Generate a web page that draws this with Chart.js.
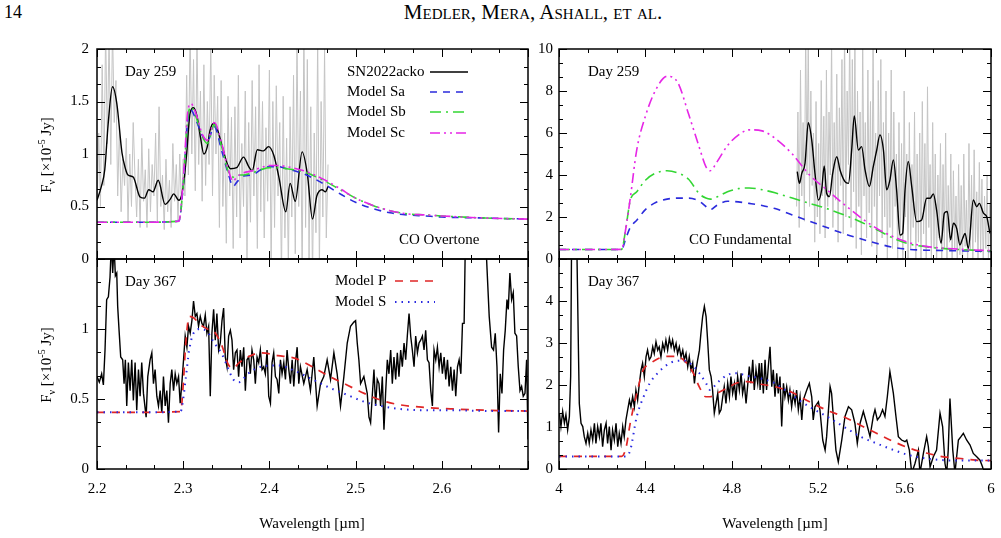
<!DOCTYPE html>
<html lang="en">
<head>
<meta charset="UTF-8">
<title>CO overtone and fundamental - SN2022acko</title>
<script src="https://cdn.jsdelivr.net/npm/chart.js"></script>
<style>
  body {
    margin: 0;
    width: 1001px;
    height: 538px;
    position: relative;
    overflow: hidden;
    background: #fff;
    color: #000;
    font-family: "Liberation Serif", "Times New Roman", serif;
  }
  canvas { position: absolute; }
  .page-no { position: absolute; left: 4px; top: 2px; font-size: 18px; }
  .running-head { position: absolute; left: 533px; top: 0px; transform: translateX(-50%); font-size: 21px; font-variant: small-caps; white-space: nowrap; }
  .ytitle { position: absolute; font-size: 15px; white-space: nowrap; transform: translate(-50%, -50%) rotate(-90deg); }
  .ytitle sub, .ytitle sup { font-size: 10px; }
  .xtitle { position: absolute; font-size: 15px; white-space: nowrap; transform: translate(-50%, -50%); }
</style>
</head>
<body>

<div class="page-no">14</div>
<div class="running-head">Medler, Mera, Ashall, et al.</div>

<canvas id="tl"></canvas>
<canvas id="tr"></canvas>
<canvas id="bl"></canvas>
<canvas id="br"></canvas>

<div class="ytitle" style="left:46px; top:155px;">F<sub>ν</sub> [×10<sup>-5</sup> Jy]</div>
<div class="ytitle" style="left:46px; top:365px;">F<sub>ν</sub> [×10<sup>-5</sup> Jy]</div>
<div class="xtitle" style="left:312px; top:523px;">Wavelength [µm]</div>
<div class="xtitle" style="left:775px; top:523px;">Wavelength [µm]</div>

<script>
// ---------- tick positions / labels ----------
const leftXTicks = [2.2, 2.3, 2.4, 2.5, 2.6, 2.7];
const leftXLabels = ['2.2', '2.3', '2.4', '2.5', '2.6', ''];
const rightXTicks = [4, 4.4, 4.8, 5.2, 5.6, 6];
const rightXLabels = ['4', '4.4', '4.8', '5.2', '5.6', '6'];
const tlYTicks = [0, 0.5, 1, 1.5, 2];
const tlYLabels = ['0', '0.5', '1', '1.5', '2'];
const blYTicks = [0, 0.5, 1, 1.5];
const blYLabels = ['0', '0.5', '1', ''];
const trYTicks = [0, 2, 4, 6, 8, 10];
const trYLabels = ['0', '2', '4', '6', '8', '10'];
const brYTicks = [0, 1, 2, 3, 4, 5];
const brYLabels = ['0', '1', '2', '3', '4', ''];

// ---------- Day 259, CO overtone ----------
const tlGray = [[2.200,0.45],[2.202,1.2],[2.204,0.5],[2.206,1.85],[2.208,0.7],[2.210,2.2],[2.212,1.1],[2.214,2.15],
  [2.216,0.9],[2.218,2.2],[2.220,1.3],[2.222,1.7],[2.224,0.6],[2.226,1.25],[2.228,0.45],[2.230,0.95],[2.232,0.7],[2.234,1.15],
  [2.236,0.35],[2.238,1.0],[2.240,0.5],[2.242,1.3],[2.244,0.8],[2.246,0.4],[2.248,0.95],[2.250,0.3],[2.252,1.15],[2.254,0.55],
  [2.256,0.85],[2.258,0.3],[2.260,1.05],[2.262,0.45],[2.264,0.9],[2.266,0.6],[2.268,1.2],[2.270,0.35],[2.272,1.45],[2.274,0.5],
  [2.276,0.8],[2.278,0.28],[2.280,0.95],[2.282,0.45],[2.284,0.75],[2.286,0.3],[2.288,1.1],[2.290,0.55],[2.292,0.9],[2.294,0.35],
  [2.296,1.0],[2.298,0.5],[2.300,0.95],[2.302,0.6],[2.304,1.75],[2.306,0.8],[2.308,2.2],[2.310,1.0],[2.312,1.9],[2.314,0.65],
  [2.316,2.1],[2.318,0.9],[2.320,1.6],[2.322,0.55],[2.324,1.85],[2.326,0.7],[2.328,1.5],[2.330,0.9],[2.332,2.05],[2.334,0.6],
  [2.336,1.75],[2.338,1.0],[2.340,1.55],[2.342,0.3],[2.344,1.7],[2.346,0.5],[2.348,1.2],[2.350,0.15],[2.352,1.55],[2.354,0.6],
  [2.356,1.35],[2.358,0.1],[2.360,1.45],[2.362,0.4],[2.364,1.75],[2.366,0.2],[2.368,1.1],[2.370,0.5],[2.372,1.6],[2.374,0.0],
  [2.376,1.3],[2.378,0.35],[2.380,1.7],[2.382,0.6],[2.384,1.45],[2.386,0.1],[2.388,1.85],[2.390,0.45],[2.392,1.5],[2.394,0.2],
  [2.396,1.25],[2.398,0.55],[2.400,1.8],[2.402,-0.1],[2.404,1.5],[2.406,0.3],[2.408,1.65],[2.410,0.6],[2.412,1.3],[2.414,-0.2],
  [2.416,1.55],[2.418,0.2],[2.420,1.15],[2.422,-0.1],[2.424,1.45],[2.426,0.4],[2.428,1.75],[2.430,0.05],[2.432,2.1],[2.434,0.5],
  [2.436,1.6],[2.438,-0.2],[2.440,2.2],[2.442,0.3],[2.444,1.9],[2.446,0.0],[2.448,1.45],[2.450,-0.2],[2.452,1.2],[2.454,0.25],
  [2.456,2.1],[2.458,-0.1],[2.460,1.5],[2.462,0.4],[2.464,2.0],[2.466,0.2],[2.468,0.9]];
const tlObs = [[2.200,0.56],[2.205,0.69],[2.209,0.85],[2.213,1.29],[2.218,1.64],[2.223,1.48],[2.229,1.01],[2.233,0.86],
  [2.236,0.80],[2.242,0.78],[2.250,0.59],[2.255,0.58],[2.260,0.66],[2.265,0.64],[2.271,0.75],[2.279,0.52],[2.285,0.57],
  [2.289,0.62],[2.295,0.56],[2.298,0.60],[2.301,0.75],[2.304,1.00],[2.308,1.39],[2.312,1.44],[2.316,1.36],[2.320,1.16],
  [2.324,1.00],[2.328,1.07],[2.331,1.22],[2.335,1.29],[2.339,1.25],[2.345,1.08],[2.351,0.91],[2.355,0.86],[2.362,0.87],
  [2.370,0.97],[2.376,0.88],[2.380,0.84],[2.386,1.04],[2.393,1.03],[2.399,1.07],[2.405,0.99],[2.411,0.78],[2.419,0.45],
  [2.424,0.72],[2.430,0.55],[2.438,1.02],[2.444,0.81],[2.450,0.38],[2.455,0.60],[2.461,0.66],[2.465,0.64],[2.468,0.69]];
const tlModelX = [2.2,2.25,2.295,2.3,2.305,2.309,2.315,2.322,2.328,2.336,2.345,2.352,2.358,2.362,2.37,2.38,2.39,2.4,
  2.41,2.42,2.44,2.46,2.48,2.5,2.52,2.54,2.56,2.58,2.6,2.65,2.7];
const tlSa = [0.35,0.35,0.36,0.7,1.3,1.42,1.32,1.18,1.12,1.26,1.02,0.82,0.69,0.73,0.79,0.80,0.85,0.88,0.88,0.86,0.81,
  0.73,0.63,0.54,0.48,0.44,0.42,0.41,0.40,0.39,0.38];
const tlSb = [0.35,0.35,0.36,0.7,1.32,1.45,1.35,1.17,1.10,1.28,1.06,0.84,0.78,0.80,0.80,0.82,0.85,0.87,0.87,0.86,0.83,
  0.76,0.67,0.58,0.51,0.46,0.43,0.42,0.41,0.39,0.38];
const tlSc = [0.35,0.35,0.36,0.75,1.38,1.48,1.38,1.19,1.13,1.30,1.09,0.86,0.74,0.78,0.82,0.84,0.87,0.89,0.89,0.88,0.84,
  0.77,0.68,0.58,0.51,0.46,0.43,0.42,0.41,0.39,0.38];

// ---------- Day 259, CO fundamental ----------
const trGray = [[5.100,2.5],[5.106,7.0],[5.112,1.5],[5.118,9.0],[5.124,3.0],[5.130,6.5],[5.136,1.8],[5.142,11],
  [5.148,4.0],[5.154,10.5],[5.160,2.5],[5.166,8.0],[5.172,3.5],[5.178,6.0],[5.184,0.8],[5.190,7.5],[5.196,2.0],[5.202,5.5],
  [5.208,1.2],[5.214,8.5],[5.220,3.0],[5.226,6.8],[5.232,1.0],[5.238,9.0],[5.244,2.5],[5.250,7.0],[5.256,4.0],[5.262,10.5],
  [5.268,1.5],[5.274,6.5],[5.280,2.8],[5.286,8.8],[5.292,0.8],[5.298,7.2],[5.304,3.5],[5.310,9.5],[5.316,1.2],[5.322,11],
  [5.328,2.0],[5.334,8.0],[5.340,4.5],[5.346,11],[5.352,1.5],[5.358,9.5],[5.364,3.2],[5.370,10.5],[5.376,0.5],[5.382,8.0],
  [5.388,2.5],[5.394,7.0],[5.400,0.2],[5.406,10.5],[5.412,3.0],[5.418,6.5],[5.424,1.0],[5.430,9.0],[5.436,2.2],[5.442,7.5],
  [5.448,0.6],[5.454,10.5],[5.460,2.5],[5.466,6.0],[5.472,0.0],[5.478,8.5],[5.484,3.0],[5.490,9.5],[5.496,1.0],[5.502,6.5],
  [5.508,2.0],[5.514,8.0],[5.520,-0.4],[5.526,6.0],[5.532,1.5],[5.538,9.0],[5.544,0.5],[5.550,7.0],[5.556,2.5],[5.562,5.0],
  [5.568,-0.3],[5.574,6.5],[5.580,1.0],[5.586,5.5],[5.592,-0.2],[5.598,8.0],[5.604,2.0],[5.610,5.0],[5.616,-0.5],[5.622,6.5],
  [5.628,0.5],[5.634,4.5],[5.640,1.5],[5.646,7.0],[5.652,-0.3],[5.658,5.0],[5.664,0.8],[5.670,6.0],[5.676,-0.4],[5.682,7.5],
  [5.688,1.2],[5.694,5.5],[5.700,0.0],[5.706,8.2],[5.712,1.5],[5.718,4.5],[5.724,-0.3],[5.730,6.5],[5.736,0.5],[5.742,5.0],
  [5.748,-0.5],[5.754,4.0],[5.760,1.0],[5.766,5.5],[5.772,-0.2],[5.778,4.5],[5.784,0.5],[5.790,6.0],[5.796,-0.4],[5.802,3.5],
  [5.808,0.8],[5.814,5.0],[5.820,-0.3],[5.826,4.2],[5.832,0.5],[5.838,3.0],[5.844,-0.5],[5.850,4.5],[5.856,0.2],[5.862,3.5],
  [5.868,-0.4],[5.874,5.0],[5.880,0.6],[5.886,2.8],[5.892,-0.3],[5.898,5.5],[5.904,0.4],[5.910,4.0],[5.916,-0.2],[5.922,5.2],
  [5.928,0.8],[5.934,3.2],[5.940,-0.4],[5.946,4.6],[5.952,0.3],[5.958,3.8],[5.964,-0.3],[5.970,3.0],[5.976,0.5],[5.982,4.0],
  [5.988,-0.2],[5.994,2.6],[6.000,0.5]];
const trObs = [[5.103,4.16],[5.113,3.60],[5.124,4.08],[5.139,4.56],[5.154,6.49],[5.170,5.67],[5.185,4.08],[5.201,2.81],
  [5.216,3.29],[5.228,4.43],[5.239,3.13],[5.252,2.97],[5.267,4.08],[5.286,4.87],[5.301,4.24],[5.324,3.68],[5.340,3.60],
  [5.355,5.19],[5.367,6.81],[5.386,5.19],[5.401,5.35],[5.417,4.24],[5.437,3.45],[5.455,4.40],[5.471,5.19],[5.486,5.91],
  [5.502,5.19],[5.517,3.29],[5.532,3.76],[5.548,4.72],[5.563,3.29],[5.579,1.14],[5.591,1.22],[5.602,3.29],[5.617,4.64],
  [5.633,3.45],[5.656,1.78],[5.679,1.86],[5.702,2.89],[5.718,2.89],[5.733,3.10],[5.748,2.34],[5.769,0.75],[5.784,2.18],
  [5.798,2.26],[5.813,0.91],[5.826,1.70],[5.841,1.46],[5.856,0.67],[5.869,0.99],[5.880,1.22],[5.895,0.51],[5.918,2.81],
  [5.934,2.49],[5.946,2.65],[5.965,2.18],[5.980,2.02],[5.995,1.22]];
const trModelX = [4.0,4.2,4.29,4.31,4.33,4.36,4.40,4.45,4.50,4.55,4.60,4.65,4.68,4.70,4.73,4.78,4.83,4.88,4.94,5.0,
  5.08,5.16,5.24,5.32,5.40,5.48,5.55,5.62,5.70,5.80,5.90,6.0];
const trSa = [0.45,0.45,0.46,1.0,1.5,1.85,2.35,2.7,2.85,2.9,2.9,2.75,2.5,2.35,2.55,2.75,2.72,2.65,2.55,2.4,
  2.1,1.8,1.5,1.2,0.95,0.72,0.55,0.46,0.42,0.4,0.38,0.36];
const trSb = [0.45,0.45,0.46,1.5,2.8,3.2,3.75,4.1,4.2,4.1,3.8,3.1,2.9,2.85,2.95,3.2,3.35,3.38,3.3,3.15,
  2.9,2.65,2.4,2.1,1.75,1.35,0.98,0.72,0.58,0.48,0.43,0.38];
const trSc = [0.45,0.45,0.46,1.5,2.9,5.2,6.8,8.1,8.7,8.4,6.9,5.3,4.4,4.2,4.6,5.4,5.9,6.15,6.1,5.75,
  5.0,4.0,3.3,2.6,1.95,1.4,1.05,0.78,0.6,0.5,0.44,0.4];

// ---------- Day 367, CO overtone ----------
const blObs = [[2.2000,0.66],[2.2027,0.62],[2.2054,0.68],[2.2074,0.60],[2.2093,0.85],[2.2112,1.21],[2.2132,1.23],[2.2151,1.37],
  [2.2167,1.62],[2.2182,1.40],[2.2198,1.60],[2.2213,1.38],[2.2229,1.40],[2.2240,1.16],[2.2256,0.99],[2.2275,0.80],[2.2298,0.78],
  [2.2314,0.61],[2.2329,0.78],[2.2345,0.45],[2.2364,0.76],[2.2384,0.56],[2.2403,0.78],[2.2422,0.49],[2.2442,0.76],[2.2461,0.42],
  [2.2481,0.71],[2.2500,0.52],[2.2519,0.76],[2.2539,0.54],[2.2570,0.37],[2.2589,0.66],[2.2616,0.78],[2.2636,0.83],[2.2655,0.61],
  [2.2674,0.71],[2.2694,0.52],[2.2713,0.45],[2.2733,0.56],[2.2752,0.40],[2.2771,0.66],[2.2791,0.45],[2.2810,0.56],[2.2829,0.33],
  [2.2849,0.61],[2.2868,0.71],[2.2888,0.56],[2.2907,0.68],[2.2926,0.61],[2.2946,0.66],[2.2965,0.47],[2.2984,0.61],[2.3004,0.78],
  [2.3023,0.95],[2.3043,0.87],[2.3062,1.02],[2.3081,0.97],[2.3101,1.06],[2.3120,1.20],[2.3140,1.09],[2.3159,1.11],[2.3178,1.02],
  [2.3198,1.09],[2.3217,1.04],[2.3236,1.02],[2.3256,1.10],[2.3275,0.97],[2.3295,1.02],[2.3314,0.52],[2.3333,0.97],[2.3353,1.14],
  [2.3372,0.92],[2.3391,1.11],[2.3411,0.85],[2.3430,0.90],[2.3450,1.06],[2.3469,1.15],[2.3488,0.80],[2.3508,0.73],[2.3527,0.95],
  [2.3547,0.99],[2.3566,0.92],[2.3585,0.71],[2.3605,0.83],[2.3624,0.85],[2.3643,0.66],[2.3663,0.85],[2.3682,0.73],[2.3702,0.87],
  [2.3721,0.56],[2.3740,0.78],[2.3760,0.80],[2.3779,0.68],[2.3798,0.85],[2.3818,0.78],[2.3837,0.61],[2.3857,0.80],[2.3876,0.76],
  [2.3895,0.85],[2.3915,0.71],[2.3934,0.73],[2.3953,0.68],[2.3973,0.85],[2.3992,0.52],[2.4012,0.47],[2.4031,0.76],[2.4050,0.83],
  [2.4070,0.66],[2.4089,0.64],[2.4109,0.54],[2.4128,0.78],[2.4147,0.68],[2.4167,0.76],[2.4186,0.64],[2.4205,0.85],[2.4225,0.71],
  [2.4244,0.61],[2.4264,0.78],[2.4283,0.59],[2.4302,0.76],[2.4322,0.87],[2.4341,0.61],[2.4360,0.73],[2.4399,0.61],[2.4438,0.71],
  [2.4476,0.56],[2.4515,0.80],[2.4554,0.45],[2.4593,0.61],[2.4631,0.66],[2.4670,0.78],[2.4709,0.64],[2.4748,0.83],[2.4786,0.68],
  [2.4825,0.45],[2.4864,0.66],[2.4903,0.90],[2.4941,1.02],[2.4980,1.05],[2.5000,1.06],[2.5019,0.90],[2.5038,0.78],[2.5058,0.61],
  [2.5096,0.66],[2.5135,0.54],[2.5155,0.37],[2.5174,0.33],[2.5193,0.52],[2.5213,0.71],[2.5232,0.45],[2.5251,0.64],[2.5271,0.61],
  [2.5290,0.45],[2.5310,0.66],[2.5329,0.28],[2.5348,0.54],[2.5368,0.78],[2.5387,0.68],[2.5407,0.85],[2.5426,0.61],[2.5445,0.80],
  [2.5465,0.64],[2.5484,0.83],[2.5503,0.66],[2.5523,0.85],[2.5542,0.73],[2.5562,0.90],[2.5581,0.78],[2.5600,0.95],[2.5620,1.11],
  [2.5639,0.95],[2.5658,0.85],[2.5678,0.73],[2.5697,0.95],[2.5717,0.83],[2.5736,0.90],[2.5755,0.92],[2.5775,0.95],[2.5794,0.85],
  [2.5813,0.99],[2.5833,0.78],[2.5852,0.76],[2.5872,0.56],[2.5891,0.45],[2.5910,0.85],[2.5930,0.78],[2.5949,0.87],[2.5969,0.73],
  [2.5988,0.83],[2.6007,0.68],[2.6027,0.80],[2.6046,0.64],[2.6066,0.78],[2.6085,0.59],[2.6104,0.73],[2.6124,0.56],[2.6143,0.71],
  [2.6162,0.52],[2.6182,0.73],[2.6201,0.78],[2.6221,0.68],[2.6240,1.04],[2.6259,1.04],[2.6275,1.70],[2.6298,1.90],[2.6376,2.0],
  [2.6453,1.9],[2.6512,1.60],[2.6550,1.09],[2.6578,0.87],[2.6600,0.85],[2.6620,0.97],[2.6640,0.73],[2.6659,0.26],[2.6678,0.68],
  [2.6698,0.54],[2.6717,0.85],[2.6736,0.99],[2.6756,1.21],[2.6771,1.14],[2.6790,1.40],[2.6810,1.21],[2.6829,1.26],[2.6848,0.97],
  [2.6868,0.95],[2.6887,0.73],[2.6907,0.56],[2.6926,0.59],[2.6945,0.52],[2.6965,0.54],[2.6984,0.78],[2.7000,0.21]];
const blModelX = [2.2,2.25,2.297,2.300,2.303,2.307,2.312,2.32,2.328,2.336,2.345,2.352,2.358,2.365,2.375,2.39,2.41,
  2.43,2.45,2.47,2.49,2.51,2.53,2.55,2.58,2.61,2.65,2.7];
const blP = [0.405,0.405,0.41,0.6,0.9,1.09,1.08,1.03,1.0,0.98,0.88,0.75,0.72,0.76,0.80,0.83,0.81,0.79,0.73,0.66,0.60,
  0.54,0.49,0.46,0.44,0.43,0.42,0.414];
const blS = [0.405,0.405,0.41,0.5,0.65,0.85,0.97,1.0,0.98,0.9,0.82,0.72,0.64,0.62,0.68,0.73,0.74,0.70,0.64,0.58,0.53,
  0.48,0.45,0.43,0.42,0.42,0.415,0.414];

// ---------- Day 367, CO fundamental ----------
const brObs = [[4.002,1.33],[4.009,1.01],[4.017,1.37],[4.025,1.09],[4.032,1.29],[4.040,0.93],[4.048,1.25],[4.054,2.20],
  [4.059,6.0],[4.071,6.5],[4.082,5.5],[4.090,2.83],[4.094,1.56],[4.102,1.09],[4.110,1.01],[4.117,0.77],[4.125,0.61],[4.133,0.85],
  [4.140,0.61],[4.148,0.93],[4.156,0.69],[4.164,1.09],[4.171,0.61],[4.179,1.01],[4.187,0.77],[4.194,1.09],[4.202,0.53],[4.210,0.93],
  [4.218,1.09],[4.225,0.61],[4.233,1.01],[4.241,0.45],[4.248,0.93],[4.256,0.69],[4.264,1.09],[4.272,0.53],[4.279,0.85],[4.287,0.61],
  [4.295,1.01],[4.302,0.77],[4.310,1.17],[4.318,1.41],[4.326,1.64],[4.333,1.48],[4.341,1.72],[4.349,1.48],[4.356,1.88],[4.364,1.64],
  [4.372,2.04],[4.380,2.36],[4.387,2.52],[4.395,2.20],[4.403,2.67],[4.410,2.83],[4.418,2.60],[4.426,2.67],[4.434,2.91],[4.441,2.75],
  [4.449,3.03],[4.457,2.83],[4.464,2.91],[4.472,2.67],[4.480,2.99],[4.488,2.83],[4.495,3.07],[4.503,2.83],[4.511,3.11],[4.519,2.91],
  [4.526,3.07],[4.534,2.83],[4.542,2.99],[4.549,2.75],[4.557,2.91],[4.565,2.67],[4.573,2.83],[4.580,2.60],[4.588,2.75],[4.596,2.44],
  [4.603,2.67],[4.611,2.36],[4.619,2.52],[4.627,2.04],[4.634,2.36],[4.642,2.60],[4.650,2.83],[4.657,3.23],[4.665,3.63],[4.673,3.87],
  [4.681,3.63],[4.688,3.07],[4.696,2.36],[4.704,2.20],[4.711,1.88],[4.719,1.33],[4.727,1.56],[4.735,1.80],[4.742,1.33],[4.750,1.41],
  [4.758,1.72],[4.765,1.96],[4.773,1.56],[4.781,2.04],[4.789,1.72],[4.796,2.20],[4.804,1.80],[4.812,2.04],[4.819,1.64],[4.827,2.20],
  [4.835,1.88],[4.843,2.28],[4.850,1.80],[4.858,2.04],[4.866,1.56],[4.873,1.96],[4.881,2.44],[4.889,2.04],[4.897,2.60],[4.904,1.88],
  [4.912,2.36],[4.920,2.04],[4.927,2.52],[4.931,1.88],[4.938,2.52],[4.946,1.80],[4.954,2.60],[4.961,1.88],[4.969,2.44],[4.977,2.91],
  [4.985,1.96],[4.992,2.36],[5.000,1.72],[5.008,2.28],[5.015,1.80],[5.023,2.20],[5.031,1.01],[5.039,2.04],[5.046,1.72],[5.054,1.96],
  [5.062,1.64],[5.069,1.88],[5.077,1.48],[5.085,1.80],[5.093,1.56],[5.100,1.88],[5.108,1.41],[5.116,1.72],[5.124,1.17],[5.131,1.64],
  [5.147,1.88],[5.159,2.04],[5.170,1.72],[5.177,1.17],[5.185,1.48],[5.201,1.60],[5.208,1.41],[5.221,0.69],[5.232,0.45],[5.239,0.77],
  [5.255,1.96],[5.262,1.80],[5.270,1.25],[5.282,0.45],[5.293,0.17],[5.309,0.69],[5.324,1.25],[5.340,1.48],[5.355,1.41],[5.370,1.09],
  [5.381,0.61],[5.394,1.09],[5.409,1.37],[5.424,1.09],[5.440,0.77],[5.455,1.25],[5.463,1.41],[5.474,1.17],[5.486,1.25],[5.498,1.41],
  [5.509,1.25],[5.520,1.72],[5.532,2.32],[5.548,1.80],[5.560,1.25],[5.571,0.77],[5.586,0.69],[5.602,0.65],[5.610,0.69],[5.622,0.45],
  [5.633,-0.1],[5.648,0.13],[5.664,0.45],[5.671,-0.1],[5.687,0.37],[5.702,0.77],[5.710,0.53],[5.718,0.05],[5.733,0.29],[5.748,0.45],
  [5.764,1.33],[5.776,1.01],[5.787,0.13],[5.795,-0.1],[5.802,0.45],[5.810,1.68],[5.823,0.45],[5.833,-0.1],[5.849,0.69],[5.861,0.77],
  [5.872,0.85],[5.887,0.69],[5.903,0.57],[5.918,0.37],[5.934,0.29],[5.949,0.21],[5.961,0.05],[5.972,-0.2],[5.995,-0.3]];
const brModelX = [4.0,4.2,4.29,4.31,4.33,4.36,4.39,4.42,4.46,4.50,4.54,4.58,4.62,4.65,4.68,4.70,4.73,4.78,4.82,4.87,
  4.93,5.0,5.08,5.16,5.24,5.32,5.40,5.47,5.55,5.62,5.70,5.78,5.86,5.93,6.0];
const brP = [0.3,0.3,0.3,0.5,1.1,1.8,2.36,2.5,2.63,2.68,2.68,2.58,2.3,1.95,1.72,1.72,1.8,1.93,2.04,2.08,
  2.02,1.96,1.82,1.6,1.4,1.24,1.03,0.85,0.65,0.5,0.38,0.29,0.25,0.21,0.2];
const brS = [0.3,0.3,0.3,0.3,0.45,1.25,1.7,2.04,2.3,2.48,2.57,2.58,2.46,2.28,2.05,1.88,2.04,2.24,2.28,2.22,
  2.16,2.04,1.75,1.48,1.25,1.0,0.76,0.61,0.45,0.33,0.25,0.21,0.2,0.2,0.2];

// ---------- styles ----------
const FONT = '"Liberation Serif", "Times New Roman", serif';
const styleGray = { color: '#c4c4c4', width: 1, dash: [] };
const styleObs = { color: '#000000', width: 1.4, dash: [] };
const styleSa = { color: '#2b2bdc', width: 1.6, dash: [7, 6] };
const styleSb = { color: '#33d633', width: 1.6, dash: [11, 5, 2, 5] };
const styleSc = { color: '#e626e6', width: 1.6, dash: [10, 4, 2, 4, 2, 4] };
const styleP = { color: '#e02626', width: 1.7, dash: [8, 7] };
const styleS = { color: '#2a2ae0', width: 2, dash: [1.5, 5] };

function pairs(list) { return list.map(p => ({ x: p[0], y: p[1] })); }
function zip(xs, ys) { return xs.map((x, i) => ({ x: x, y: ys[i] })); }

function series(points, style, order, smooth) {
  return {
    data: points,
    borderColor: style.color,
    borderWidth: style.width,
    borderDash: style.dash,
    pointRadius: 0,
    fill: false,
    order: order,
    clip: 0,
    tension: smooth ? 0.4 : 0,
    cubicInterpolationMode: smooth ? 'monotone' : 'default'
  };
}

// inward ticks on all four sides, frame, notes and legend
function tickList(majors) {
  const out = [];
  majors.forEach((v, i) => {
    out.push({ v: v, major: true });
    if (i < majors.length - 1) {
      const step = (majors[i + 1] - v) / 3;
      out.push({ v: v + step, major: false }, { v: v + 2 * step, major: false });
    }
  });
  return out;
}

const framePlugin = {
  id: 'frame',
  afterDatasetsDraw(chart, args, opts) {
    const ctx = chart.ctx, a = chart.chartArea;
    const xs = chart.scales.x, ys = chart.scales.y;
    ctx.save();
    ctx.setLineDash([]);
    ctx.strokeStyle = '#000';
    ctx.lineWidth = 1;
    ctx.beginPath();
    tickList(opts.xTicks).forEach(t => {
      const px = Math.round(xs.getPixelForValue(t.v)) + 0.5;
      const len = t.major ? 8 : 4;
      ctx.moveTo(px, a.bottom); ctx.lineTo(px, a.bottom - len);
      ctx.moveTo(px, a.top); ctx.lineTo(px, a.top + len);
    });
    tickList(opts.yTicks).forEach(t => {
      const py = Math.round(ys.getPixelForValue(t.v)) + 0.5;
      const len = t.major ? 8 : 4;
      ctx.moveTo(a.left, py); ctx.lineTo(a.left + len, py);
      ctx.moveTo(a.right, py); ctx.lineTo(a.right - len, py);
    });
    ctx.stroke();
    ctx.lineWidth = 1.5;
    ctx.strokeRect(a.left, a.top, a.right - a.left, a.bottom - a.top);

    ctx.font = '15px ' + FONT;
    ctx.textBaseline = 'middle';
    ctx.textAlign = 'left';
    ctx.fillStyle = '#000';
    (opts.notes || []).forEach(n => ctx.fillText(n.text, a.left + n.dx, a.top + n.dy));
    (opts.legend || []).forEach(item => {
      ctx.fillStyle = '#000';
      ctx.fillText(item.text, a.left + item.dx, a.top + item.dy);
      ctx.strokeStyle = item.style.color;
      ctx.lineWidth = item.style.width;
      ctx.setLineDash(item.style.dash);
      ctx.beginPath();
      ctx.moveTo(a.left + item.x0, a.top + item.dy);
      ctx.lineTo(a.left + item.x1, a.top + item.dy);
      ctx.stroke();
      ctx.setLineDash([]);
    });
    ctx.restore();
  }
};

function makePanel(id, area, cfg) {
  const canvas = document.getElementById(id);
  // generous padding so the scales' label margins never shrink the plot box
  const padL = 50, padT = 20, padR = 20, padB = cfg.xLabels ? 40 : 20;
  canvas.width = area.w + padL + padR;
  canvas.height = area.h + padT + padB;
  canvas.style.left = (area.x - padL) + 'px';
  canvas.style.top = (area.y - padT) + 'px';

  const tickFont = { family: FONT, size: 15 };
  return new Chart(canvas, {
    type: 'line',
    data: { datasets: cfg.datasets },
    options: {
      responsive: false,
      animation: false,
      devicePixelRatio: 1,
      events: [],
      layout: { padding: { top: padT, right: padR, left: 0, bottom: 0 } },
      plugins: {
        legend: { display: false },
        tooltip: { enabled: false },
        frame: { xTicks: cfg.xTicks, yTicks: cfg.yTicks, notes: cfg.notes, legend: cfg.legend }
      },
      scales: {
        x: {
          type: 'linear',
          min: cfg.xTicks[0],
          max: cfg.xTicks[cfg.xTicks.length - 1],
          afterBuildTicks: s => { s.ticks = cfg.xTicks.map(v => ({ value: v })); },
          afterFit: s => { s.height = padB; },
          grid: { display: false, drawTicks: false },
          border: { display: false },
          ticks: {
            display: !!cfg.xLabels,
            autoSkip: false,
            maxRotation: 0,
            padding: 11,
            color: '#000',
            font: tickFont,
            callback: (v, i) => (cfg.xLabels ? cfg.xLabels[i] : '')
          }
        },
        y: {
          type: 'linear',
          min: cfg.yTicks[0],
          max: cfg.yTicks[cfg.yTicks.length - 1],
          afterBuildTicks: s => { s.ticks = cfg.yTicks.map(v => ({ value: v })); },
          afterFit: s => { s.width = padL; },
          grid: { display: false, drawTicks: false },
          border: { display: false },
          ticks: {
            autoSkip: false,
            padding: cfg.yPad,
            color: '#000',
            font: tickFont,
            callback: (v, i) => cfg.yLabels[i]
          }
        }
      }
    },
    plugins: [framePlugin]
  });
}

// Day 259 overtone
makePanel('tl', { x: 97, y: 49, w: 431, h: 210 }, {
  xTicks: leftXTicks, xLabels: null, yTicks: tlYTicks, yLabels: tlYLabels, yPad: 8,
  datasets: [
    series(pairs(tlGray), styleGray, 10, false),
    series(pairs(tlObs), styleObs, 5, true),
    series(zip(tlModelX, tlSa), styleSa, 3, true),
    series(zip(tlModelX, tlSb), styleSb, 2, true),
    series(zip(tlModelX, tlSc), styleSc, 1, true)
  ],
  notes: [{ text: 'Day 259', dx: 28, dy: 23 }, { text: 'CO Overtone', dx: 302, dy: 191 }],
  legend: [
    { text: 'SN2022acko', dx: 250, dy: 23, x0: 333, x1: 371, style: styleObs },
    { text: 'Model Sa', dx: 250, dy: 43, x0: 333, x1: 371, style: styleSa },
    { text: 'Model Sb', dx: 250, dy: 63, x0: 333, x1: 371, style: styleSb },
    { text: 'Model Sc', dx: 250, dy: 84, x0: 333, x1: 371, style: styleSc }
  ]
});

// Day 259 fundamental
makePanel('tr', { x: 559, y: 49, w: 432, h: 210 }, {
  xTicks: rightXTicks, xLabels: null, yTicks: trYTicks, yLabels: trYLabels, yPad: 6,
  datasets: [
    series(pairs(trGray), styleGray, 10, false),
    series(pairs(trObs), styleObs, 5, true),
    series(zip(trModelX, trSa), styleSa, 3, true),
    series(zip(trModelX, trSb), styleSb, 2, true),
    series(zip(trModelX, trSc), styleSc, 1, true)
  ],
  notes: [{ text: 'Day 259', dx: 29, dy: 23 }, { text: 'CO Fundamental', dx: 130, dy: 191 }]
});

// Day 367 overtone
makePanel('bl', { x: 97, y: 259, w: 431, h: 210 }, {
  xTicks: leftXTicks, xLabels: leftXLabels, yTicks: blYTicks, yLabels: blYLabels, yPad: 8,
  datasets: [
    series(pairs(blObs), styleObs, 5, false),
    series(zip(blModelX, blP), styleP, 2, true),
    series(zip(blModelX, blS), styleS, 1, true)
  ],
  notes: [{ text: 'Day 367', dx: 28, dy: 23 }],
  legend: [
    { text: 'Model P', dx: 238, dy: 22, x0: 298, x1: 338, style: styleP },
    { text: 'Model S', dx: 238, dy: 43, x0: 298, x1: 338, style: styleS }
  ]
});

// Day 367 fundamental
makePanel('br', { x: 559, y: 259, w: 432, h: 210 }, {
  xTicks: rightXTicks, xLabels: rightXLabels, yTicks: brYTicks, yLabels: brYLabels, yPad: 6,
  datasets: [
    series(pairs(brObs), styleObs, 5, false),
    series(zip(brModelX, brP), styleP, 2, true),
    series(zip(brModelX, brS), styleS, 1, true)
  ],
  notes: [{ text: 'Day 367', dx: 29, dy: 23 }]
});
</script>
</body>
</html>
